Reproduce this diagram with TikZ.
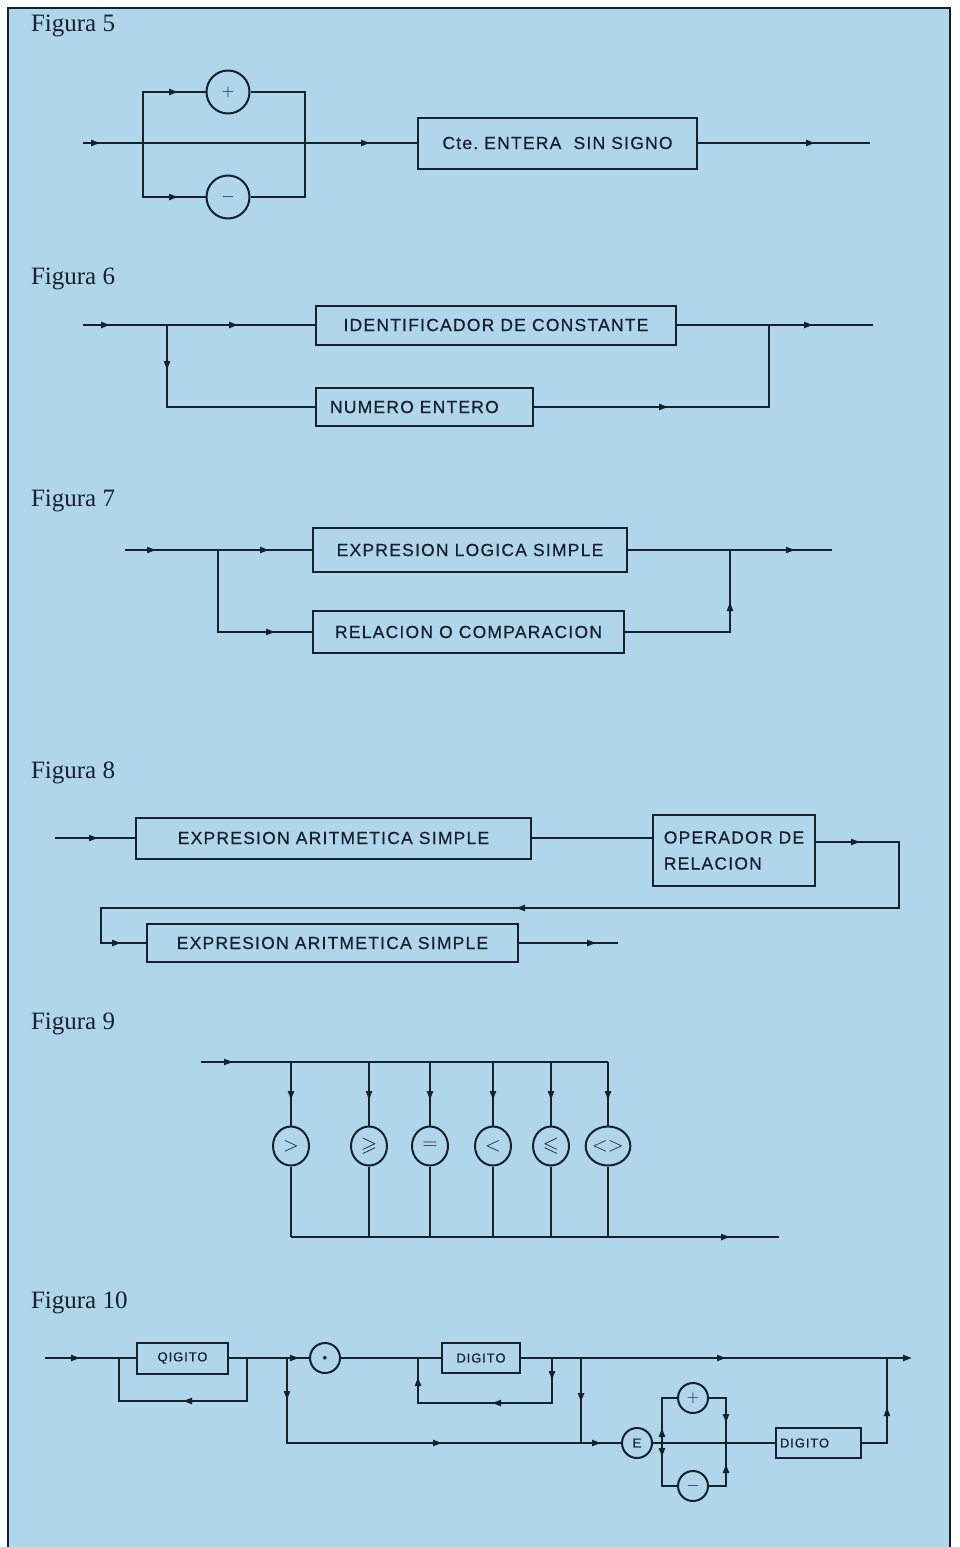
\documentclass[tikz,border=0pt]{standalone}
\usepackage{amssymb}
\usepackage{fontspec}
\setmainfont{Liberation Serif}
\newfontfamily\boxfont[LetterSpace=7,FakeBold=0.5]{Liberation Sans}
\usetikzlibrary{arrows.meta,positioning,shapes.geometric,decorations.markings}
\definecolor{paper}{RGB}{176,214,236}
\definecolor{ink}{RGB}{24,32,44}

\begin{document}
\begin{tikzpicture}[x=1pt, y=-1pt, line width=2pt, color=ink,
  rulebox/.style={draw, rectangle, inner sep=0pt, font=\boxfont\fontsize{17.5}{22}\selectfont},
  smallbox/.style={draw, rectangle, inner sep=0pt, font=\boxfont\fontsize{13}{15}\selectfont},
  ring/.style={draw, circle, inner sep=0pt, minimum size=30pt, font=\fontsize{18}{18}\selectfont},
  oval/.style={draw, ellipse, inner sep=0pt, minimum width=36pt, minimum height=39pt, font=\fontsize{21}{21}\selectfont},
  figlabel/.style={anchor=base west, inner sep=0pt, font=\fontsize{25}{25}\selectfont},
  arrowat/.style={postaction={decorate, decoration={markings,
      mark=at position #1 with {\arrow{Triangle[length=9pt,width=6pt]}}}}}]
  \useasboundingbox (0,0) rectangle (959,1547);
  % page and frame
  \fill[white] (0,0) rectangle (959,1547);
  \fill[paper] (8,8) rectangle (950,1547);
  \draw[line width=2.5pt] (8,1547) -- (8,8) -- (950,8) -- (950,1547);

  % Figura 5: optional sign
  \node[figlabel] (f5) at (30,31) {Figura 5};
  \coordinate (in5) at (83,143);
  \coordinate (out5) at (870,143);
  \coordinate (sL) at (143,143);
  \coordinate (sR) at (305,143);
  \node[ring, minimum size=43pt] (plus) at (228,92) {$+$};
  \node[ring, minimum size=43pt] (minus) at (228,197) {$-$};
  \node[rulebox, minimum width=279pt, minimum height=51pt] (cte) at (557.5,143) {Cte.\ ENTERA\ \ SIN SIGNO};
  \draw[arrowat=17pt, arrowat=287pt] (in5) -- (cte.west);
  \draw[arrowat=-55pt] (cte.east) -- (out5);
  \draw[arrowat=86pt] (sL) |- (plus.west);
  \draw (plus.east) -| (sR);
  \draw[arrowat=89pt] (sL) |- (minus.west);
  \draw (minus.east) -| (sR);

  % Figura 6
  \node[figlabel] (f6) at (30,284) {Figura 6};
  \coordinate (in6) at (83,325);
  \coordinate (out6) at (873,325);
  \coordinate (branch6) at (167,325);
  \coordinate (join6) at (769,325);
  \node[rulebox, minimum width=360pt, minimum height=39pt] (ident) at (496,325) {IDENTIFICADOR DE CONSTANTE};
  \node[rulebox, minimum width=217pt, minimum height=38pt, text width=189pt, align=left] (numero) at (424.5,407) {NUMERO ENTERO};
  \draw[arrowat=27pt, arrowat=155pt] (in6) -- (ident.west);
  \draw[arrowat=-60pt] (ident.east) -- (out6);
  \draw[arrowat=45pt] (branch6) |- (numero.west);
  \draw[arrowat=134pt] (numero.east) -| (join6);

  % Figura 7
  \node[figlabel] (f7) at (30,506) {Figura 7};
  \coordinate (in7) at (125,550);
  \coordinate (out7) at (832,550);
  \coordinate (branch7) at (218,550);
  \coordinate (join7) at (730,550);
  \node[rulebox, minimum width=314pt, minimum height=44pt] (logica) at (470,550) {EXPRESION LOGICA SIMPLE};
  \node[rulebox, minimum width=311pt, minimum height=42pt] (relacion) at (468.5,632) {RELACION O COMPARACION};
  \draw[arrowat=31pt, arrowat=144pt] (in7) -- (logica.west);
  \draw[arrowat=-37pt] (logica.east) -- (out7);
  \draw[arrowat=139pt] (branch7) |- (relacion.west);
  \draw[arrowat=135pt] (relacion.east) -| (join7);

  % Figura 8
  \node[figlabel] (f8) at (30,778) {Figura 8};
  \coordinate (in8) at (55,838);
  \coordinate (out8) at (618,943);
  \node[rulebox, minimum width=395pt, minimum height=41pt] (arit1) at (333.5,838) {EXPRESION ARITMETICA SIMPLE};
  \node[rulebox, minimum width=162pt, minimum height=71pt, align=left] (oprel) at (734,850.5) {OPERADOR DE\\[4pt]RELACION};
  \node[rulebox, minimum width=371pt, minimum height=38pt] (arit2) at (332.5,943) {EXPRESION ARITMETICA SIMPLE};
  \coordinate (turn8a) at (899,842);
  \coordinate (turn8b) at (899,908);
  \coordinate (turn8c) at (101,908);
  \draw[arrowat=43pt] (in8) -- (arit1.west);
  \draw (arit1.east) -- (arit1.east -| oprel.west);
  \draw[arrowat=44pt, arrowat=532pt, arrowat=1002pt] (oprel.east |- turn8a) -- (turn8a) -- (turn8b) -- (turn8c) |- (arit2.west);
  \draw[arrowat=-22pt] (arit2.east) -- (out8);

  % Figura 9: relational operators
  \node[figlabel] (f9) at (30,1029) {Figura 9};
  \coordinate (in9) at (201,1062);
  \coordinate (out9) at (779,1237);
  \foreach \x/\s/\n in {291/$>$/gt, 369/$\geqslant$/ge, 430/$=$/eq, 493/$<$/lt, 551/$\leqslant$/le, 608/$<>$/ne} {
    \coordinate (t\n) at (\x,1062);
    \coordinate (b\n) at (\x,1237);
    \node[oval] (o\n) at (\x,1146) {\s};
    \draw[arrowat=38pt] (t\n) -- (o\n);
    \draw (o\n) -- (b\n);
  }
  \draw[arrowat=32pt] (in9) -- (tne);
  \draw[arrowat=-49pt] (bgt) -- (out9);

  % Figura 10: unsigned number
  \node[figlabel] (f10) at (30,1308) {Figura 10};
  \coordinate (in10) at (45,1358);
  \coordinate (out10) at (912,1358);
  \coordinate (l1a) at (119,1358);
  \coordinate (l1b) at (247,1358);
  \coordinate (j10a) at (287,1358);
  \coordinate (l2a) at (418,1358);
  \coordinate (l2b) at (552,1358);
  \coordinate (j10b) at (581,1358);
  \coordinate (j10c) at (887,1358);
  \coordinate (sg1) at (662,1443);
  \coordinate (sg2) at (726,1443);
  \node[smallbox, minimum width=91pt, minimum height=31pt] (dig1) at (182.5,1358) {QIGITO};
  \node[ring, font=\fontsize{9}{9}\selectfont] (dot) at (325,1358) {$\bullet$};
  \node[smallbox, minimum width=78pt, minimum height=30pt] (dig2) at (481,1358) {DIGITO};
  \node[ring, font=\boxfont\fontsize{13}{13}\selectfont] (E) at (637,1443) {E};
  \node[ring] (plus2) at (693,1398) {$+$};
  \node[ring] (minus2) at (693,1486) {$-$};
  \node[smallbox, minimum width=85pt, minimum height=30pt, text width=77pt, align=left] (dig3) at (818.5,1443) {DIGITO};
  \draw[arrowat=35pt] (in10) -- (dig1.west);
  \draw[arrowat=107pt] (l1b) -- ++(0,43) -| (l1a);
  \draw[arrowat=70pt] (dig1.east) -- (dot.west);
  \draw (dot.east) -- (dig2.west);
  \draw[arrowat=22pt, arrowat=105pt, arrowat=205pt] (l2b) -- ++(0,45) -| (l2a);
  \draw[-{Triangle[length=9pt,width=6pt]}, arrowat=205pt] (dig2.east) -- (out10);
  \draw[arrowat=42pt, arrowat=240pt, arrowat=399pt] (j10a) |- (E.west);
  \draw[arrowat=44pt] (j10b) -- (j10b |- E.west);
  \draw (E.east) -- (dig3.west);
  \draw[arrowat=15pt] (sg1) |- (plus2.west);
  \draw[arrowat=14pt] (sg1) |- (minus2.west);
  \draw[arrowat=42pt] (plus2.east) -| (sg2);
  \draw[arrowat=39pt] (minus2.east) -| (sg2);
  \draw[arrowat=61pt] (dig3.east) -| (j10c);
\end{tikzpicture}
\end{document}
